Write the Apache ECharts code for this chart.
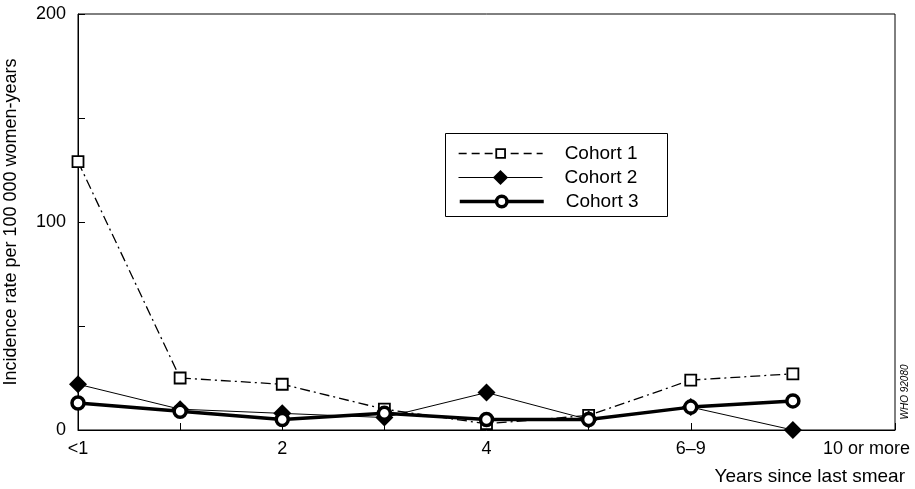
<!DOCTYPE html>
<html>
<head>
<meta charset="utf-8">
<script src="https://cdn.jsdelivr.net/npm/echarts@6/dist/echarts.min.js"></script>
<style>
  html, body { margin: 0; padding: 0; background: #fff; }
  #chart { width: 915px; height: 489px; }
</style>
</head>
<body>
<div id="chart"></div>
<script>
// Years since last smear: position on the axis and the label shown at each tick
const xPositions = [0, 1, 2, 3, 4, 5, 6, 7];
const xTickLabels = ['<1', '', '2', '', '4', '', '6–9', '', '10 or more'];

// Incidence rate per 100 000 women-years
const cohort1 = [129, 25, 22, 10, 3, 7, 24, 27];
const cohort2 = [22, 10, 8, 6, 18, 5, 11, 0];
const cohort3 = [13, 9, 5, 8, 5, 5, 11, 14];

const yLabelled = [0, 100, 200];

const FONT = '"Liberation Sans", Arial, Helvetica, sans-serif';

function pairs(values) {
  return xPositions.map((x, i) => [x, values[i]]);
}

// one legend row per cohort so each key symbol can have its own size
function legendRow(name, centerY, symbolBox, itemStyle, lineStyle) {
  const rowHeight = Math.max(symbolBox, 18);
  return {
    orient: 'vertical',
    left: 458,
    top: Math.round(centerY - rowHeight / 2),
    padding: 0,
    itemWidth: 84,
    itemHeight: symbolBox,
    textStyle: { fontFamily: FONT, fontSize: 19, color: '#000', padding: [0, 0, 0, 17] },
    data: [{ name: name, itemStyle: itemStyle, lineStyle: lineStyle }]
  };
}

const chart = echarts.init(document.getElementById('chart'), null, { renderer: 'canvas' });

chart.setOption({
  animation: false,
  backgroundColor: '#fff',
  textStyle: { fontFamily: FONT, color: '#000' },
  grid: {
    left: 78, right: 20, top: 14, bottom: 59,
    outerBoundsMode: 'none',
    containLabel: false,
    show: true, borderColor: '#000', borderWidth: 1, backgroundColor: 'transparent'
  },
  legend: [
    legendRow('Cohort 1', 153, 11,
      { color: '#fff', borderColor: '#000', borderWidth: 1.8 },
      { color: '#000', width: 1.3, type: [8, 5] }),
    legendRow('Cohort 2', 177, 19,
      { color: '#000', borderColor: '#000', borderWidth: 0 },
      { color: '#000', width: 1 }),
    legendRow('Cohort 3', 201, 13,
      { color: '#fff', borderColor: '#000', borderWidth: 3.5 },
      { color: '#000', width: 3.5 })
  ],
  xAxis: {
    type: 'value',
    min: 0, max: 8, interval: 1,
    splitLine: { show: false },
    axisLine: { show: true, lineStyle: { color: '#000', width: 1 } },
    axisTick: { show: true, inside: true, length: 7, lineStyle: { color: '#000' } },
    axisLabel: {
      margin: 10,
      fontFamily: FONT, fontSize: 18, color: '#000',
      formatter: function (v) {
        const t = xTickLabels[Math.round(v)] || '';
        if (Math.round(v) === xTickLabels.length - 1 && t) return '{last|' + t + '}';
        return t;
      },
      rich: {
        last: { width: 144, align: 'left', fontFamily: FONT, fontSize: 18, color: '#000' }
      }
    },
    name: 'Years since last smear',
    nameLocation: 'end',
    nameGap: 10,
    nameTextStyle: {
      fontFamily: FONT, fontSize: 19, color: '#000',
      align: 'right', verticalAlign: 'top', padding: [37, 0, 0, 0]
    }
  },
  yAxis: {
    type: 'value',
    min: 0, max: 200, interval: 50,
    splitLine: { show: false },
    axisLine: { show: true, lineStyle: { color: '#000', width: 1 } },
    axisTick: { show: true, inside: true, length: 7, lineStyle: { color: '#000' } },
    axisLabel: {
      margin: 12,
      fontFamily: FONT, fontSize: 18, color: '#000',
      formatter: v => (yLabelled.indexOf(v) >= 0 ? String(v) : '')
    },
    name: 'Incidence rate per 100 000 women-years',
    nameLocation: 'middle',
    nameGap: 58,
    nameTextStyle: { fontFamily: FONT, fontSize: 18, color: '#000' }
  },
  series: [
    {
      name: 'Cohort 1',
      type: 'line',
      data: pairs(cohort1),
      symbol: 'rect',
      symbolSize: 11,
      lineStyle: { color: '#000', width: 1.3, type: [10, 4, 2, 4] },
      itemStyle: { color: '#fff', borderColor: '#000', borderWidth: 1.8 },
      z: 2
    },
    {
      name: 'Cohort 2',
      type: 'line',
      data: pairs(cohort2),
      symbol: 'diamond',
      symbolSize: 18,
      lineStyle: { color: '#000', width: 1 },
      itemStyle: { color: '#000', borderColor: '#000', borderWidth: 0 },
      z: 3
    },
    {
      name: 'Cohort 3',
      type: 'line',
      data: pairs(cohort3),
      symbol: 'circle',
      symbolSize: 12,
      lineStyle: { color: '#000', width: 3.5 },
      itemStyle: { color: '#fff', borderColor: '#000', borderWidth: 3.5 },
      z: 4
    }
  ],
  graphic: [
    {
      // frame around the key
      type: 'rect',
      z: 0,
      shape: { x: 445.5, y: 133.5, width: 222, height: 83 },
      style: { fill: '#fff', stroke: '#000', lineWidth: 1 }
    },
    {
      type: 'text',
      x: 905, y: 392,
      rotation: Math.PI / 2,
      style: {
        text: 'WHO 92080',
        font: 'italic 10px ' + FONT,
        fill: '#000',
        align: 'center',
        verticalAlign: 'middle'
      }
    }
  ]
});
</script>
</body>
</html>
